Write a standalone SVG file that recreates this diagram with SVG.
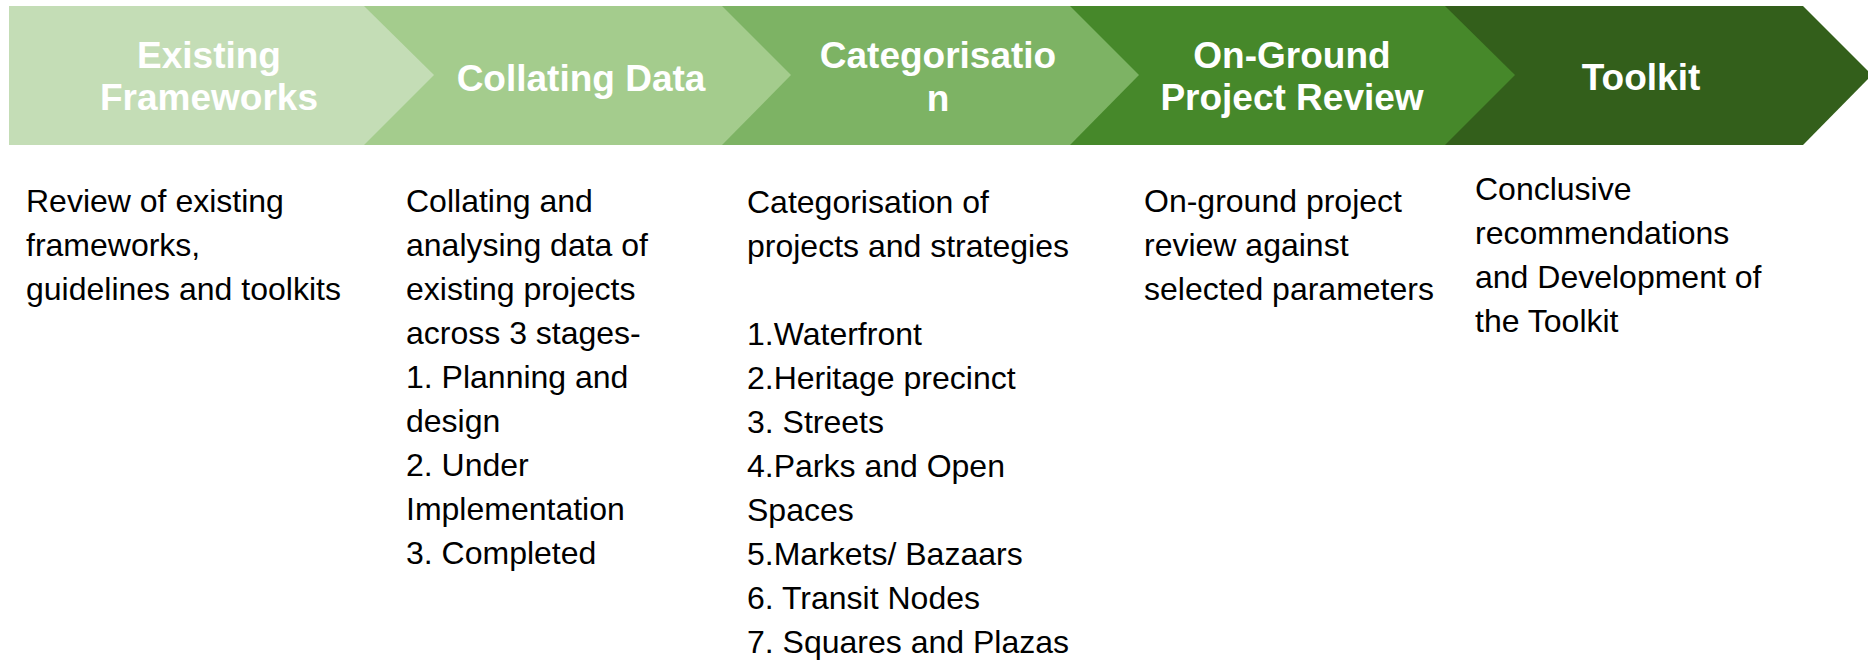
<svg xmlns="http://www.w3.org/2000/svg" width="1868" height="660" viewBox="0 0 1868 660">
<style>
.hd{font-family:"Liberation Sans",Arial,sans-serif;font-weight:bold;font-size:37px;fill:#ffffff;text-anchor:middle}
.bd{font-family:"Liberation Sans",Arial,sans-serif;font-size:32px;fill:#000000}
</style>
<rect x="0" y="0" width="1868" height="660" fill="#ffffff"/>
<g id="connectors"></g>
<g id="toolkit">
<polygon points="1445,6 1803,6 1872,75 1803,145 1445,145" fill="#335F1B"/>
<text class="hd" x="1641" y="90">Toolkit</text>
<text class="bd" x="1475" y="200">Conclusive</text>
<text class="bd" x="1475" y="244">recommendations</text>
<text class="bd" x="1475" y="288">and Development of</text>
<text class="bd" x="1475" y="332">the Toolkit</text>
</g>
<g id="on-ground">
<polygon points="1070,6 1445,6 1515,75 1445,145 1070,145" fill="#46882A"/>
<text class="hd" x="1292" y="68">On-Ground</text>
<text class="hd" x="1292" y="110">Project Review</text>
<text class="bd" x="1144" y="212">On-ground project</text>
<text class="bd" x="1144" y="256">review against</text>
<text class="bd" x="1144" y="300">selected parameters</text>
</g>
<g id="categorisation">
<polygon points="722,6 1070,6 1139,75 1070,145 722,145" fill="#7DB364"/>
<text class="hd" x="938" y="68">Categorisatio</text>
<text class="hd" x="938" y="111">n</text>
<text class="bd" x="747" y="213">Categorisation of</text>
<text class="bd" x="747" y="257">projects and strategies</text>
<text class="bd" x="747" y="345">1.Waterfront</text>
<text class="bd" x="747" y="389">2.Heritage precinct</text>
<text class="bd" x="747" y="433">3. Streets</text>
<text class="bd" x="747" y="477">4.Parks and Open</text>
<text class="bd" x="747" y="521">Spaces</text>
<text class="bd" x="747" y="565">5.Markets/ Bazaars</text>
<text class="bd" x="747" y="609">6. Transit Nodes</text>
<text class="bd" x="747" y="653">7. Squares and Plazas</text>
</g>
<g id="collating-data">
<polygon points="364,6 722,6 791,75 722,145 364,145" fill="#A4CC8D"/>
<text class="hd" x="581" y="91">Collating Data</text>
<text class="bd" x="406" y="212">Collating and</text>
<text class="bd" x="406" y="256">analysing data of</text>
<text class="bd" x="406" y="300">existing projects</text>
<text class="bd" x="406" y="344">across 3 stages-</text>
<text class="bd" x="406" y="388">1. Planning and</text>
<text class="bd" x="406" y="432">design</text>
<text class="bd" x="406" y="476">2. Under</text>
<text class="bd" x="406" y="520">Implementation</text>
<text class="bd" x="406" y="564">3. Completed</text>
</g>
<g id="existing-frameworks">
<polygon points="9,6 364,6 434,75 364,145 9,145" fill="#C4DDB6"/>
<text class="hd" x="209" y="68">Existing</text>
<text class="hd" x="209" y="110">Frameworks</text>
<text class="bd" x="26" y="212">Review of existing</text>
<text class="bd" x="26" y="256">frameworks,</text>
<text class="bd" x="26" y="300">guidelines and toolkits</text>
</g>
</svg>
